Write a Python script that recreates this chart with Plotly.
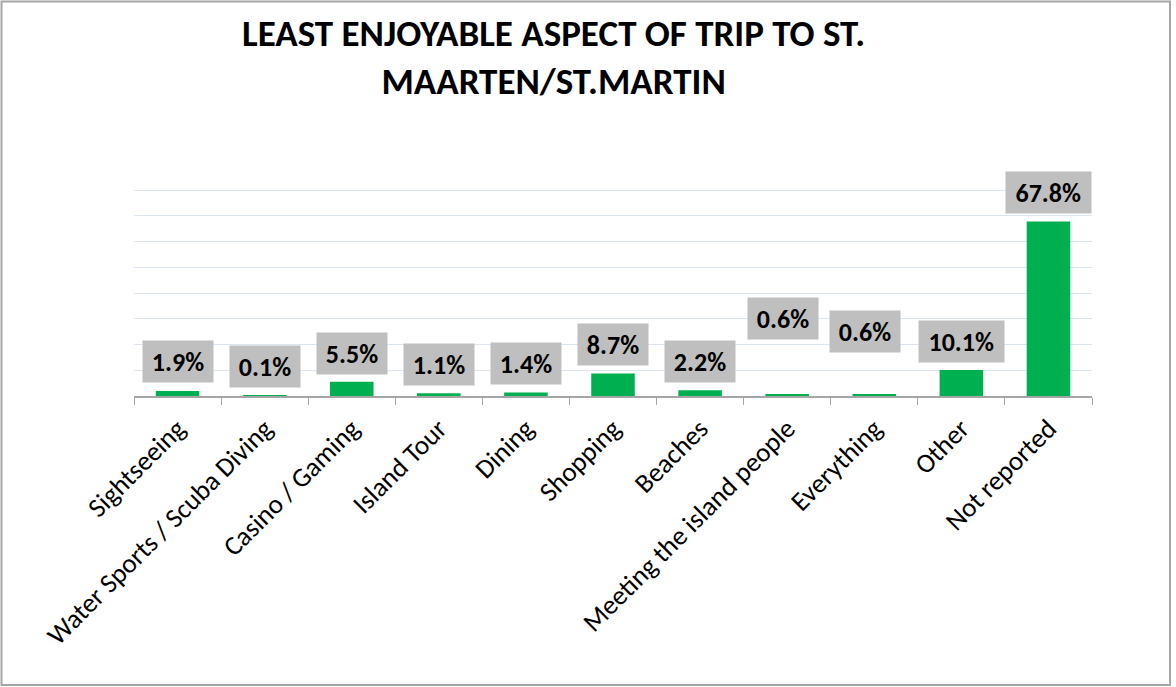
import plotly.graph_objects as go

# Survey responses: least enjoyable aspect of the trip (percent of respondents)
categories = [
    "Sightseeing",
    "Water Sports / Scuba Diving",
    "Casino / Gaming",
    "Island Tour",
    "Dining",
    "Shopping",
    "Beaches",
    "Meeting the island people",
    "Everything",
    "Other",
    "Not reported",
]
shares = [1.9, 0.1, 5.5, 1.1, 1.4, 8.7, 2.2, 0.6, 0.6, 10.1, 67.8]

# Label placement tweaks (pixels above each bar top / sideways nudge)
label_lift = [8, 8, 7, 7, 7, 8, 7, 54, 41, 7, 7]
label_nudge = [0, 0, 0, 0, 0, 0, 0, -4, -9, 0, 0]

W, H = 1176, 687
M_L, M_R, M_T, M_B = 134, 84, 189, 291
Y_TOP = 80.4
FONT = "Carlito, Calibri, Lato, sans-serif"

fig = go.Figure(
    go.Bar(
        x=categories,
        y=shares,
        marker=dict(color="#00b050", line=dict(width=0)),
        width=0.5,
        hoverinfo="x+y",
    )
)

for cat, v, lift, nudge in zip(categories, shares, label_lift, label_nudge):
    txt = f"{v:.1f}%"
    fig.add_annotation(
        x=cat,
        y=v,
        xref="x",
        yref="y",
        text=f"<b>{txt}</b>",
        showarrow=False,
        yanchor="bottom",
        xanchor="center",
        yshift=lift,
        xshift=nudge,
        bgcolor="#bfbfbf",
        borderpad=6,
        width=14.5 * len(txt),
        height=29,
        font=dict(family=FONT, size=26, color="#000000"),
    )

pw = W - M_L - M_R
ph = H - M_T - M_B


def px_x(p):
    return (p - M_L) / pw


def px_y(p):
    return (H - M_B - p) / ph


# Chart title
fig.add_annotation(
    xref="paper",
    yref="paper",
    x=px_x(553),
    y=px_y(9),
    xanchor="center",
    yanchor="top",
    showarrow=False,
    align="center",
    text="<b>LEAST ENJOYABLE ASPECT OF TRIP TO ST.<br>MAARTEN/ST.MARTIN</b>",
    font=dict(family=FONT, size=37, color="#000000"),
)

# Outer chart frame
fig.add_shape(
    type="rect",
    xref="paper",
    yref="paper",
    x0=px_x(1.5),
    x1=px_x(1170),
    y0=px_y(685),
    y1=px_y(1.5),
    line=dict(color="#a6a6a6", width=2),
    fillcolor="rgba(0,0,0,0)",
    layer="below",
)

fig.update_layout(
    width=W,
    height=H,
    margin=dict(l=M_L, r=M_R, t=M_T, b=M_B, autoexpand=False),
    paper_bgcolor="#ffffff",
    plot_bgcolor="#ffffff",
    showlegend=False,
    font=dict(family=FONT, color="#000000"),
)

fig.update_xaxes(
    type="category",
    tickangle=-45,
    tickson="boundaries",
    ticks="outside",
    ticklen=7,
    tickcolor="#a6a6a6",
    showline=True,
    linecolor="#a6a6a6",
    linewidth=2,
    showgrid=False,
    ticklabelstandoff=4,
    tickfont=dict(family=FONT, size=27, color="#000000"),
)

fig.update_yaxes(
    range=[0, Y_TOP],
    tickvals=[10, 20, 30, 40, 50, 60, 70, 80],
    showgrid=True,
    gridcolor="#dbe5f1",
    gridwidth=1,
    showticklabels=False,
    zeroline=False,
    showline=False,
    ticks="",
)

fig.write_html("out.html")
